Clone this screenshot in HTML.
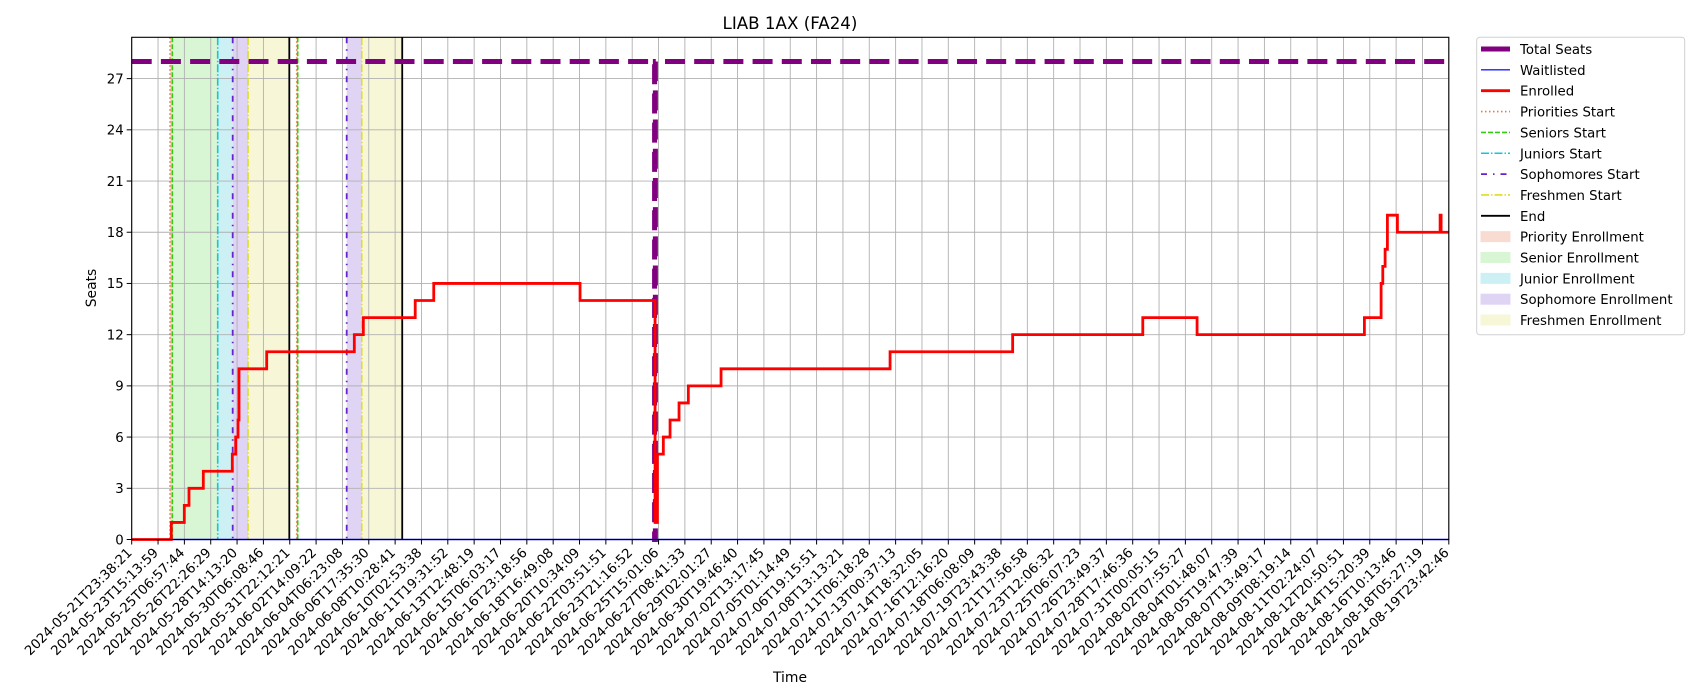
<!DOCTYPE html>
<html><head><meta charset="utf-8"><style>
html,body{margin:0;padding:0;background:#fff}
svg{display:block;font-family:"DejaVu Sans","Liberation Sans",sans-serif}
</style></head><body>
<svg id="chart" width="1700" height="700" viewBox="0 0 1700 700" xmlns="http://www.w3.org/2000/svg">
<rect width="1700" height="700" fill="#fff"/>
<text x="790" y="29" text-anchor="middle" font-size="16.7">LIAB 1AX (FA24)</text>
<g id="spans"></g><g id="grid"></g><g id="vlines"></g><g id="series"></g><g id="axes"></g>
<text x="790" y="682" text-anchor="middle" font-size="13.9">Time</text>
<text transform="translate(96,288) rotate(-90)" text-anchor="middle" font-size="13.9">Seats</text>
<g id="legend"></g>
</svg>
<script>
const tickLabels = ["2024-05-21T23:38:21","2024-05-23T15:13:59","2024-05-25T06:57:44","2024-05-26T22:26:29","2024-05-28T14:13:20","2024-05-30T06:08:46","2024-05-31T22:12:21","2024-06-02T14:09:22","2024-06-04T06:23:08","2024-06-06T17:35:30","2024-06-08T10:28:41","2024-06-10T02:53:38","2024-06-11T19:31:52","2024-06-13T12:48:19","2024-06-15T06:03:17","2024-06-16T23:18:56","2024-06-18T16:49:08","2024-06-20T10:34:09","2024-06-22T03:51:51","2024-06-23T21:16:52","2024-06-25T15:01:06","2024-06-27T08:41:33","2024-06-29T02:01:27","2024-06-30T19:46:40","2024-07-02T13:17:45","2024-07-05T01:14:49","2024-07-06T19:15:51","2024-07-08T13:13:21","2024-07-11T06:18:28","2024-07-13T00:37:13","2024-07-14T18:32:05","2024-07-16T12:16:20","2024-07-18T06:08:09","2024-07-19T23:43:38","2024-07-21T17:56:58","2024-07-23T12:06:32","2024-07-25T06:07:23","2024-07-26T23:49:37","2024-07-28T17:46:36","2024-07-31T00:05:15","2024-08-02T07:55:27","2024-08-04T01:48:07","2024-08-05T19:47:39","2024-08-07T13:49:17","2024-08-09T08:19:14","2024-08-11T02:24:07","2024-08-12T20:50:51","2024-08-14T15:20:39","2024-08-16T10:13:46","2024-08-18T05:27:19","2024-08-19T23:42:46"];
const yTicks = [0,3,6,9,12,15,18,21,24,27];
const enrolledX = [0,1.503,1.997,2.175,2.718,3.819,3.948,4.036,4.074,5.125,8.451,8.793,10.763,11.466,17.020,19.868,19.955,20.182,20.437,20.778,21.131,22.373,28.789,33.443,38.383,40.444,46.796,47.430,47.494,47.582,47.669,48.049,49.670,49.708,50];
const enrolledY = [0,1,2,3,4,5,6,7,10,11,12,13,14,15,14,1,5,6,7,8,9,10,11,12,13,12,13,15,16,17,19,18,19,18,18];
const totalX = [0,19.85,19.88,50];
const totalY = [28,0,28,28];
const waitX = [0,50];
const waitY = [0,0];
const prioritiesStart = [1.454,6.264];
const seniorsStart = [1.541,6.302];
const juniorsStart = [3.265];
const sophomoresStart = [3.834,8.162];
const freshmenStart = [4.415,8.732];
const endLines = [5.983,10.270];
const prioritySpans = [[1.454,1.541],[6.264,6.302]];
const seniorSpans = [[1.541,3.265]];
const juniorSpans = [[3.265,3.834]];
const sophomoreSpans = [[3.834,4.415],[8.162,8.732]];
const freshmenSpans = [[4.415,5.983],[8.732,10.270]];

const L=131.7,R=1448.8,T=37.3,B=539.5,XMAX=50,YMAX=29.42;
const X=u=>L+u*(R-L)/XMAX;
const Y=v=>B-v*(B-T)/YMAX;
const NS="http://www.w3.org/2000/svg";
function mk(tag,parent,attrs){const e=document.createElementNS(NS,tag);for(const k in attrs)e.setAttribute(k,attrs[k]);parent.appendChild(e);return e;}
const g=id=>document.getElementById(id);

// spans
function spans(arr,color,name){arr.forEach(s=>{const r=mk('rect',g('spans'),{x:X(s[0]),y:T,width:X(s[1])-X(s[0]),height:B-T,fill:color});

});}
spans(prioritySpans,'#f8dcd2','priority-enrollment-span');
spans(seniorSpans,'#d8f5d4','senior-enrollment-span');
spans(juniorSpans,'#ccf0f4','junior-enrollment-span');
spans(sophomoreSpans,'#e0d4f4','sophomore-enrollment-span');
spans(freshmenSpans,'#f7f7d8','freshmen-enrollment-span');

// grid
yTicks.forEach(v=>{const l=mk('line',g('grid'),{x1:L,x2:R,y1:Y(v),y2:Y(v),stroke:'#b0b0b0','stroke-width':0.9});

});
tickLabels.forEach((t,i)=>{const l=mk('line',g('grid'),{x1:X(i),x2:X(i),y1:T,y2:B,stroke:'#b0b0b0','stroke-width':0.9});

});

// vertical event lines
function vl(arr,color,dash,w,name){arr.forEach(u=>{const l=mk('line',g('vlines'),{x1:X(u),x2:X(u),y1:T,y2:B,stroke:color,'stroke-width':w,'stroke-dasharray':dash});

});}
vl(prioritiesStart,'#e8793f','1.5,2.5',1.6,'priorities-start-line');
vl(seniorsStart,'#33cc11','5,2',1.6,'seniors-start-line');
vl(juniorsStart,'#11c8d8','8,2,1.5,2',1.6,'juniors-start-line');
vl(sophomoresStart,'#6622cc','6,6,1.5,6',1.8,'sophomores-start-line');
vl(freshmenStart,'#dddd22','8,2,1.5,2',1.6,'freshmen-start-line');
vl(endLines,'#000','',1.8,'end-line');

// series
function stepPath(xs,ys){let d=`M${X(xs[0])},${Y(ys[0])}`;for(let i=1;i<xs.length;i++){d+=`H${X(xs[i])}V${Y(ys[i])}`;}return d;}
const tp=mk('path',g('series'),{d:stepPath(totalX,totalY),fill:'none',stroke:'#800080','stroke-width':5,'stroke-dasharray':'20,9.2'});


const wp=mk('path',g('series'),{d:stepPath(waitX,waitY),fill:'none',stroke:'#1f1fff','stroke-width':1.4});


const ep=mk('path',g('series'),{d:stepPath(enrolledX,enrolledY),fill:'none',stroke:'#ff0000','stroke-width':2.8});



// axes
const fr=mk('rect',g('axes'),{x:L,y:T,width:R-L,height:B-T,fill:'none',stroke:'#000','stroke-width':1.1});


yTicks.forEach(v=>{mk('line',g('axes'),{x1:L-5,x2:L,y1:Y(v),y2:Y(v),stroke:'#000','stroke-width':1});
const t=mk('text',g('axes'),{x:L-8,y:Y(v)+4.8,'text-anchor':'end','font-size':13.3});t.textContent=v;

});
tickLabels.forEach((s,i)=>{mk('line',g('axes'),{x1:X(i),x2:X(i),y1:B,y2:B+5,stroke:'#000','stroke-width':1});
const t=mk('text',g('axes'),{x:0,y:0,'text-anchor':'end','font-size':13.3,transform:`translate(${X(i)+1},${B+14}) rotate(-45)`});t.textContent=s;

});

// legend
const lg=g('legend');
const box=mk('rect',lg,{x:1476.7,y:37.3,width:208,height:297.5,rx:3,fill:'#fff',stroke:'#d0d0d0','stroke-width':1});


const items=[
['Total Seats','line','#800080',5,''],['Waitlisted','line','#1f1fff',1.4,''],['Enrolled','line','#ff0000',2.8,''],
['Priorities Start','line','#e8793f',1.6,'1.5,2.5'],['Seniors Start','line','#33cc11',1.6,'5,2'],['Juniors Start','line','#11c8d8',1.6,'8,2,1.5,2'],
['Sophomores Start','line','#6622cc',1.8,'6,6,1.5,6'],['Freshmen Start','line','#dddd22',1.6,'8,2,1.5,2'],['End','line','#000',1.8,''],
['Priority Enrollment','rect','#f8dcd2'],['Senior Enrollment','rect','#d8f5d4'],['Junior Enrollment','rect','#ccf0f4'],
['Sophomore Enrollment','rect','#e0d4f4'],['Freshmen Enrollment','rect','#f7f7d8']];
items.forEach((it,i)=>{const cy=49+i*20.85;const eg=mk('g',lg,{});


if(it[1]==='line')mk('line',eg,{x1:1481,x2:1510,y1:cy,y2:cy,stroke:it[2],'stroke-width':it[3],'stroke-dasharray':it[4]});
else mk('rect',eg,{x:1481,y:cy-5,width:29,height:10,fill:it[2],stroke:it[2]});
const t=mk('text',eg,{x:1520,y:cy+5,'font-size':13.3});t.textContent=it[0];});
</script>
</body></html>
